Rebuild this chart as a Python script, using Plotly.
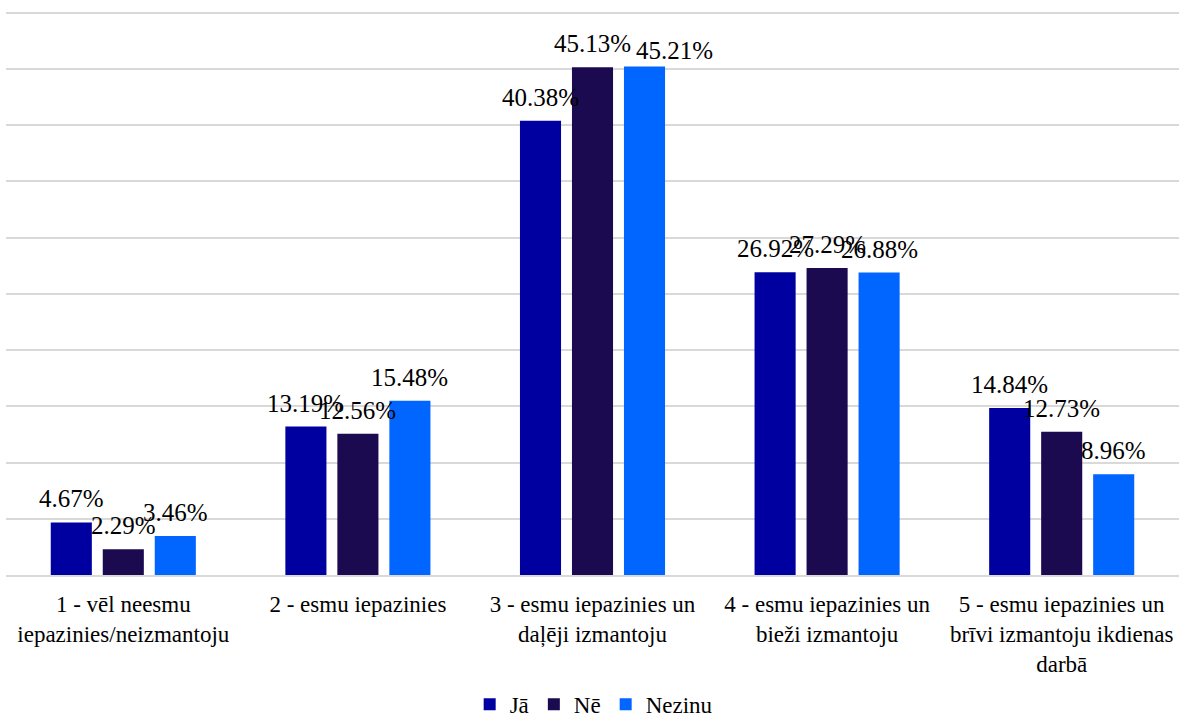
import plotly.graph_objects as go

categories = [
    "1 - vēl neesmu<br>iepazinies/neizmantoju",
    "2 - esmu iepazinies",
    "3 - esmu iepazinies un<br>daļēji izmantoju",
    "4 - esmu iepazinies un<br>bieži izmantoju",
    "5 - esmu iepazinies un<br>brīvi izmantoju ikdienas<br>darbā",
]
series_names = ["Jā", "Nē", "Nezinu"]
ja = [4.67, 13.19, 40.38, 26.92, 14.84]
ne = [2.29, 12.56, 45.13, 27.29, 12.73]
nezinu = [3.46, 15.48, 45.21, 26.88, 8.96]
colors = ["#0000A0", "#1B0A50", "#0066FF"]

FONT = "Liberation Serif, Times New Roman, serif"
values = [ja, ne, nezinu]

# label nudges (series index, category index) -> (dx px, dy px), style only
label_nudge = {(2, 2): (30, -8)}

fig = go.Figure()
for name, vals, col in zip(series_names, values, colors):
    fig.add_trace(go.Bar(x=categories, y=vals, name=name, marker_color=col,
                         marker_line_width=0))

# data labels as annotations, shifted to each bar in the group
plot_w = 1179 - 6
cat_w = plot_w / len(categories)
bargap = 0.335
slot = cat_w * (1 - bargap) / 3
annotations = []
for i, vals in enumerate(values):
    for j, (c, v) in enumerate(zip(categories, vals)):
        dx, dy = label_nudge.get((i, j), (0, 0))
        annotations.append(dict(
            x=c, y=v, xref="x", yref="y", text=f"{v:.2f}%",
            showarrow=False, yanchor="bottom", xanchor="center",
            xshift=(i - 1) * slot + dx, yshift=8 + dy,
            font=dict(family=FONT, size=25, color="#000000"),
        ))

fig.update_layout(
    barmode="group",
    bargap=bargap,
    bargroupgap=0.21,
    width=1179, height=718,
    margin=dict(l=6, r=0, t=8, b=143, autoexpand=False),
    plot_bgcolor="white", paper_bgcolor="white",
    font=dict(family=FONT, size=23, color="#000000"),
    showlegend=True,
    legend=dict(orientation="h", x=0.501, xanchor="center", y=-0.228, yanchor="middle",
                font=dict(family=FONT, size=23, color="#000000"),
                itemwidth=30, tracegroupgap=0),
    annotations=annotations,
)
fig.update_yaxes(range=[0, 50.4], dtick=5, showticklabels=False, showgrid=True,
                 gridcolor="#D9D9D9", gridwidth=1.5, zeroline=False, showline=False,
                 automargin=False)
fig.update_xaxes(showline=True, linecolor="#D9D9D9", linewidth=1.5, ticks="",
                 tickfont=dict(family=FONT, size=23, color="#000000"), ticklabelstandoff=8,
                 automargin=False)

fig.write_html("out.html",
               config={"displayModeBar": False},
               post_script="document.body.style.margin='0';document.body.style.padding='0';"
                           "document.body.style.overflow='hidden';")
